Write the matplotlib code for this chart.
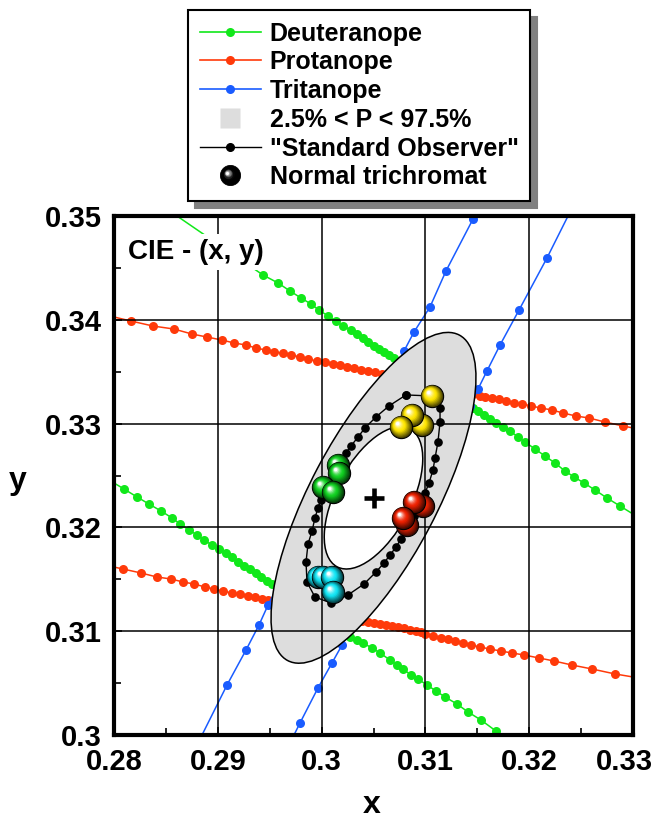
import numpy as np
import matplotlib
matplotlib.use("Agg")
import matplotlib.pyplot as plt
import matplotlib.colors as mcolors
import matplotlib.transforms as mtransforms
from matplotlib.patches import Ellipse
from matplotlib.lines import Line2D
from matplotlib.legend_handler import HandlerBase
from matplotlib.ticker import MultipleLocator

plt.rcParams["font.family"] = ["Liberation Sans", "DejaVu Sans"]
plt.rcParams["font.weight"] = "bold"
plt.rcParams["axes.labelweight"] = "bold"

# ---- data (CIE x, y) ----
deut_a_x = [0.28607, 0.29435, 0.29580, 0.29696, 0.29802, 0.29898, 0.29975, 0.30062, 0.30139, 0.30206,
            0.30283, 0.30341, 0.30399, 0.30447, 0.30505, 0.30553, 0.30601, 0.30649, 0.30698, 0.30755,
            0.30852, 0.30948, 0.31044, 0.31141, 0.31237, 0.31333, 0.31410, 0.31459, 0.31507, 0.31565,
            0.31622, 0.31680, 0.31748, 0.31815, 0.31892, 0.31960, 0.32056, 0.32152, 0.32249, 0.32345,
            0.32432, 0.32528, 0.32634, 0.32750, 0.32875, 0.33]
deut_a_y = [0.35, 0.34432, 0.34355, 0.34277, 0.34210, 0.34152, 0.34094, 0.34037, 0.33988, 0.33940,
            0.33902, 0.33863, 0.33825, 0.33786, 0.33748, 0.33719, 0.33690, 0.33661, 0.33632, 0.33593,
            0.33536, 0.33478, 0.33410, 0.33353, 0.33285, 0.33218, 0.33179, 0.33150, 0.33121, 0.33083,
            0.33044, 0.33006, 0.32967, 0.32929, 0.32871, 0.32823, 0.32755, 0.32688, 0.32620, 0.32543,
            0.32486, 0.32428, 0.32360, 0.32283, 0.32206, 0.32129]
deut_b_x = [0.28, 0.28096, 0.28222, 0.28337, 0.28453, 0.28559, 0.28636, 0.28723, 0.28800, 0.28867,
            0.28944, 0.29012, 0.29079, 0.29137, 0.29195, 0.29252, 0.29310, 0.29368, 0.29416, 0.29474,
            0.29522, 0.29599, 0.29696, 0.29792, 0.29888, 0.29985, 0.30081, 0.30177, 0.30274, 0.30341,
            0.30399, 0.30486, 0.30563, 0.30659, 0.30726, 0.30784, 0.30861, 0.30929, 0.31015, 0.31102,
            0.31189, 0.31304, 0.31410, 0.31536, 0.31680, 0.31738]
deut_b_y = [0.32428, 0.32370, 0.32293, 0.32225, 0.32158, 0.32091, 0.32033, 0.31975, 0.31927, 0.31879,
            0.31830, 0.31792, 0.31753, 0.31715, 0.31667, 0.31628, 0.31599, 0.31561, 0.31522, 0.31484,
            0.31455, 0.31407, 0.31339, 0.31281, 0.31214, 0.31156, 0.31089, 0.31021, 0.30944, 0.30915,
            0.30886, 0.30838, 0.30790, 0.30722, 0.30674, 0.30636, 0.30578, 0.30539, 0.30482, 0.30424,
            0.30366, 0.30299, 0.30222, 0.30144, 0.30038, 0.30]

prot_a_x = [0.28, 0.28164, 0.28376, 0.28578, 0.28751, 0.28896, 0.29040, 0.29156, 0.29272, 0.29368,
            0.29464, 0.29541, 0.29628, 0.29705, 0.29792, 0.29869, 0.29956, 0.30033, 0.30110, 0.30177,
            0.30245, 0.30312, 0.30380, 0.30447, 0.30514, 0.30582, 0.30649, 0.30755, 0.30948, 0.31141,
            0.31333, 0.31459, 0.31526, 0.31574, 0.31642, 0.31709, 0.31777, 0.31854, 0.31931, 0.32017,
            0.32114, 0.32220, 0.32326, 0.32451, 0.32576, 0.32730, 0.32904, 0.33]
prot_a_y = [0.34027, 0.33988, 0.33940, 0.33911, 0.33863, 0.33834, 0.33805, 0.33777, 0.33757, 0.33728,
            0.33709, 0.33690, 0.33680, 0.33661, 0.33642, 0.33622, 0.33603, 0.33593, 0.33574, 0.33565,
            0.33545, 0.33536, 0.33516, 0.33507, 0.33497, 0.33478, 0.33468, 0.33439, 0.33401, 0.33362,
            0.33314, 0.33285, 0.33266, 0.33256, 0.33247, 0.33237, 0.33218, 0.33198, 0.33189, 0.33170,
            0.33150, 0.33131, 0.33102, 0.33073, 0.33054, 0.33015, 0.32977, 0.32958]
prot_b_x = [0.28, 0.28087, 0.28260, 0.28414, 0.28549, 0.28665, 0.28771, 0.28877, 0.28963, 0.29050,
            0.29137, 0.29214, 0.29291, 0.29358, 0.29426, 0.29484, 0.29599, 0.29792, 0.29985, 0.30177,
            0.30389, 0.30447, 0.30505, 0.30563, 0.30620, 0.30678, 0.30736, 0.30794, 0.30852, 0.30909,
            0.30958, 0.30996, 0.31073, 0.31150, 0.31218, 0.31285, 0.31362, 0.31439, 0.31526, 0.31622,
            0.31728, 0.31834, 0.31950, 0.32094, 0.32239, 0.32412, 0.32605, 0.32827, 0.33]
prot_b_y = [0.31618, 0.31599, 0.31561, 0.31522, 0.31503, 0.31474, 0.31455, 0.31426, 0.31407, 0.31387,
            0.31368, 0.31358, 0.31339, 0.31329, 0.31310, 0.31301, 0.31272, 0.31233, 0.31195, 0.31156,
            0.31098, 0.31089, 0.31079, 0.31069, 0.31060, 0.31050, 0.31040, 0.31031, 0.31012, 0.31002,
            0.30992, 0.30973, 0.30954, 0.30934, 0.30925, 0.30906, 0.30886, 0.30867, 0.30848, 0.30828,
            0.30809, 0.30790, 0.30771, 0.30742, 0.30713, 0.30674, 0.30636, 0.30588, 0.30559]

trit_a_x = [0.28848, 0.29089, 0.29272, 0.29397, 0.29484, 0.29599, 0.29744, 0.29888, 0.30033, 0.30177,
            0.30322, 0.30466, 0.30611, 0.30707, 0.30794, 0.30890, 0.31044, 0.31198, 0.31459, 0.31478]
trit_a_y = [0.30, 0.30482, 0.30819, 0.31060, 0.31252, 0.31474, 0.31744, 0.32004, 0.32264, 0.32534,
            0.32803, 0.33064, 0.33333, 0.33516, 0.33699, 0.33882, 0.34123, 0.34470, 0.34971, 0.35]
trit_b_x = [0.29734, 0.29792, 0.29965, 0.30100, 0.30197, 0.30322, 0.30466, 0.30611, 0.30755, 0.30900,
            0.31044, 0.31189, 0.31333, 0.31430, 0.31507, 0.31593, 0.31719, 0.31902, 0.32171, 0.32374]
trit_b_y = [0.30, 0.30116, 0.30453, 0.30694, 0.30867, 0.31098, 0.31368, 0.31638, 0.31907, 0.32177,
            0.32447, 0.32717, 0.32986, 0.33170, 0.33333, 0.33507, 0.33757, 0.34094, 0.34595, 0.35]

std_obs_x = [0.30813, 0.31064, 0.31141, 0.31141, 0.31121, 0.31093, 0.31073, 0.31035, 0.30996, 0.30948,
             0.30890, 0.30832, 0.30765, 0.30717, 0.30659, 0.30601, 0.30524, 0.30409, 0.30254, 0.30091,
             0.29936, 0.29859, 0.29850, 0.29869, 0.29908, 0.29936, 0.29965, 0.29994, 0.30042, 0.30091,
             0.30139, 0.30187, 0.30235, 0.30283, 0.30351, 0.30418, 0.30524, 0.30649, 0.30813]
std_obs_y = [0.33276, 0.33266, 0.33150, 0.33015, 0.32823, 0.32669, 0.32553, 0.32428, 0.32331, 0.32216,
             0.32110, 0.31994, 0.31888, 0.31811, 0.31734, 0.31657, 0.31570, 0.31455, 0.31349, 0.31272,
             0.31329, 0.31474, 0.31667, 0.31840, 0.31965, 0.32091, 0.32187, 0.32264, 0.32351, 0.32437,
             0.32524, 0.32620, 0.32717, 0.32784, 0.32871, 0.32958, 0.33064, 0.33170, 0.33276]

# normal trichromats (4 per test colour)
yellow_x = [0.31064, 0.30967, 0.30871, 0.30765]
yellow_y = [0.33266, 0.32986, 0.33083, 0.32967]
green_x = [0.30158, 0.30168, 0.30014, 0.30110]
green_y = [0.32601, 0.32524, 0.32389, 0.32341]
red_x = [0.30977, 0.30890, 0.30823, 0.30784]
red_y = [0.32206, 0.32245, 0.32023, 0.32091]
cyan_x = [0.29965, 0.30014, 0.30100, 0.30110]
cyan_y = [0.31522, 0.31522, 0.31522, 0.31378]

mean_xy = (0.3050, 0.32285)
# percentile ellipses: (width, height, angle)
outer_ell = (0.03545, 0.0122, 62.2)
inner_ell = (0.01503, 0.00723, 62.2)

x_ticks = [0.28, 0.29, 0.30, 0.31, 0.32, 0.33]
x_labels = ["0.28", "0.29", "0.3", "0.31", "0.32", "0.33"]
y_ticks = [0.30, 0.31, 0.32, 0.33, 0.34, 0.35]
y_labels = ["0.3", "0.31", "0.32", "0.33", "0.34", "0.35"]

GREEN = "#11e81a"
RED = "#ff3a0a"
BLUE = "#1a5cff"


def sphere_layers(color, n=12):
    base = np.array(mcolors.to_rgb(color))
    out = []
    for i in range(n):
        t = i / (n - 1)
        f = 1 - 0.85 * t
        if t < 0.5:
            c = base * (0.3 + 1.4 * t)
        else:
            c = base + (1 - base) * ((t - 0.5) / 0.5) ** 1.6
        shift = (1 - f) * 0.35
        out.append((-shift, shift, f, np.clip(c, 0, 1)))
    return out


def draw_spheres(ax, xs, ys, color, diam=16, rad=0.00107, z=6):
    for x, y in zip(xs, ys):
        for k, (dx, dy, f, c) in enumerate(sphere_layers(color)):
            ax.scatter([x + dx * rad], [y + dy * rad], s=(diam * f) ** 2, color=[c],
                       edgecolors="black" if k == 0 else "none", linewidths=0.8, zorder=z)


class SphereHandler(HandlerBase):
    def create_artists(self, legend, orig_handle, xdescent, ydescent, width, height, fontsize, trans):
        cx = width / 2 - xdescent
        cy = height / 2 - ydescent
        arts = []
        for k, (dx, dy, f, c) in enumerate(sphere_layers("black")):
            ln = Line2D([cx + dx * 7], [cy + dy * 7], marker="o", ls="none", ms=14.5 * f,
                        mfc=c, mec="black" if k == 0 else "none", mew=0.6, transform=trans)
            arts.append(ln)
        return arts


fig = plt.figure(figsize=(6.58, 8.21), dpi=100)
ax = fig.add_axes([114 / 658, 1 - 735 / 821, 519 / 658, 519 / 821])

line_kw = dict(lw=1.1, marker="o", ms=6.5, mew=0, markevery=slice(1, -1), zorder=1.5)
ax.plot(deut_a_x, deut_a_y, color=GREEN, **line_kw)
ax.plot(deut_b_x, deut_b_y, color=GREEN, **line_kw)
ax.plot(prot_a_x, prot_a_y, color=RED, **line_kw)
ax.plot(prot_b_x, prot_b_y, color=RED, **line_kw)
ax.plot(trit_a_x, trit_a_y, color=BLUE, **line_kw)
ax.plot(trit_b_x, trit_b_y, color=BLUE, **line_kw)

ax.add_patch(Ellipse(mean_xy, outer_ell[0], outer_ell[1], angle=outer_ell[2],
                     facecolor="#dddddd", edgecolor="black", lw=1.1, zorder=2))
ax.add_patch(Ellipse(mean_xy, inner_ell[0], inner_ell[1], angle=inner_ell[2],
                     facecolor="white", edgecolor="black", lw=1.1, zorder=2.1))

ax.plot(std_obs_x, std_obs_y, color="black", lw=1.0, marker="o", ms=5.2, zorder=3)
ax.plot([mean_xy[0]], [mean_xy[1]], marker="+", ms=15, mew=3.3, color="black", zorder=3)

draw_spheres(ax, yellow_x, yellow_y, "#ffe600")
draw_spheres(ax, green_x, green_y, "#10d020")
draw_spheres(ax, red_x, red_y, "#ee2000")
draw_spheres(ax, cyan_x, cyan_y, "#10e4f4")

ax.text(0.027, 0.917, "CIE - (x, y)", transform=ax.transAxes, fontsize=20, fontweight="bold",
        va="baseline", ha="left", zorder=4,
        bbox=dict(boxstyle="square,pad=0.18", facecolor="white", edgecolor="none"))

ax.set_xlim(0.28, 0.33)
ax.set_ylim(0.30, 0.35)
ax.set_xticks(x_ticks)
ax.set_xticklabels(x_labels)
ax.set_yticks(y_ticks)
ax.set_yticklabels(y_labels)
ax.xaxis.set_minor_locator(MultipleLocator(0.005))
ax.yaxis.set_minor_locator(MultipleLocator(0.005))
ax.tick_params(which="both", direction="in", top=False, right=False, width=1.2)
ax.tick_params(which="major", length=6, labelsize=21, pad=9)
ax.tick_params(which="minor", length=5)
ax.set_axisbelow(False)
ax.grid(True, which="major", color="black", lw=1.1)
for sp in ax.spines.values():
    sp.set_linewidth(3)

# last x label would run past the figure edge; nudge it left a little
last_lbl = ax.get_xticklabels()[-1]
last_lbl.set_transform(last_lbl.get_transform()
                       + mtransforms.ScaledTranslation(-9 / 100, 0, fig.dpi_scale_trans))

ax.set_xlabel("x", fontsize=23, va="center")
ax.set_ylabel("y", fontsize=23, rotation=0, va="center", ha="center")
ax.xaxis.set_label_coords(0.497, -0.135)
ax.yaxis.set_label_coords(-0.185, 0.49)

sphere_handle = Line2D([], [])
handles = [
    Line2D([], [], color=GREEN, lw=1.2, marker="o", ms=6.5, mew=0),
    Line2D([], [], color=RED, lw=1.2, marker="o", ms=6.5, mew=0),
    Line2D([], [], color=BLUE, lw=1.2, marker="o", ms=6.5, mew=0),
    Line2D([], [], ls="none", marker="s", ms=14.5, mfc="#dddddd", mec="none"),
    Line2D([], [], color="black", lw=1.0, marker="o", ms=5.5),
    sphere_handle,
]
labels = ["Deuteranope", "Protanope", "Tritanope", "2.5% < P < 97.5%",
          "\"Standard Observer\"", "Normal trichromat"]
leg = fig.legend(handles, labels, loc="upper left", bbox_to_anchor=(188 / 658, 1 - 10 / 821),
                 bbox_transform=fig.transFigure, borderaxespad=0,
                 prop={"weight": "bold", "size": 18}, frameon=True, fancybox=False,
                 edgecolor="black", framealpha=1, handlelength=2.45, handletextpad=0.36,
                 labelspacing=0.19, borderpad=0.46,
                 shadow={"ox": 5, "oy": -5, "shade": 0.5, "alpha": 1},
                 handler_map={sphere_handle: SphereHandler()})
leg.get_frame().set_linewidth(1.5)

fig.savefig("out.png", dpi=100)
